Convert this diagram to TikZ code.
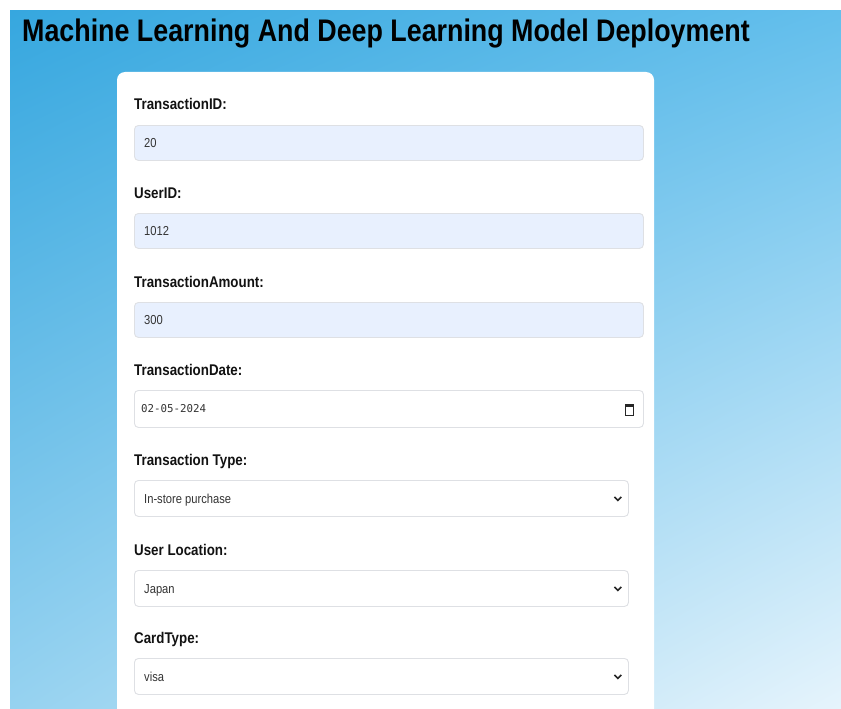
\documentclass[tikz,border=0pt]{standalone}
\usepackage{fontspec}
\usetikzlibrary{positioning,shadings}
\newfontfamily\uifont[FakeStretch=0.86]{Liberation Sans}
\newfontfamily\datefont{DejaVu Sans Mono}
\definecolor{skytl}{RGB}{54,167,223}
\definecolor{skytr}{RGB}{100,191,236}
\definecolor{skybl}{RGB}{150,210,240}
\definecolor{skybr}{RGB}{230,244,252}
\definecolor{autofill}{RGB}{232,240,254}
\definecolor{boxline}{RGB}{222,224,228}
\definecolor{valtext}{RGB}{51,51,51}

\tikzset{
  lbl/.style={anchor=base west, inner sep=0pt, text=black!93,
              font=\uifont\bfseries\fontsize{15.5}{18}\selectfont},
  valtxt/.style={anchor=base west, inner sep=0pt, text=valtext,
                 font=\uifont\fontsize{13}{15}\selectfont},
  inbox/.style={draw=boxline, line width=0.9pt, rounded corners=4pt,
                anchor=north west, inner sep=0pt},
  filledbox/.style={inbox, fill=autofill, minimum width=509, minimum height=35},
  selbox/.style={inbox, fill=white, minimum width=494, minimum height=36},
}

\begin{document}
\begin{tikzpicture}[x=1pt,y=-1pt] %% one unit per pixel, y runs down
            \useasboundingbox (0,0) rectangle (841,709);

            % page background
            \shade[upper left=skytl, upper right=skytr, lower left=skybl, lower right=skybr]
                (10,11) rectangle (841,709);

            \node[anchor=base west, inner sep=0pt, text=black,
                  font=\uifont\bfseries\fontsize{31.2}{36}\selectfont] (title) at (22,42)
                {Machine Learning And Deep Learning Model Deployment};

            % form card
            \fill[white, rounded corners=8pt] (117,72) rectangle (654,730);

            % text inputs
            \node[lbl] (idlbl) at (134,110) {TransactionID:};
            \node[filledbox] (idbox) at (134,125) {};
            \node[valtxt] (idval) at ([xshift=10pt,yshift=-5pt]idbox.west) {20};

            \node[lbl] (userlbl) at (134,198) {UserID:};
            \node[filledbox] (userbox) at (134,213) {};
            \node[valtxt] (userval) at ([xshift=10pt,yshift=-5pt]userbox.west) {1012};

            \node[lbl] (amtlbl) at (134,287) {TransactionAmount:};
            \node[filledbox] (amtbox) at (134,302) {};
            \node[valtxt] (amtval) at ([xshift=10pt,yshift=-5pt]amtbox.west) {300};

            % date input
            \node[lbl] (datelbl) at (134,375) {TransactionDate:};
            \node[inbox, fill=white, minimum width=509, minimum height=37] (datebox) at (134,390) {};
            \node[anchor=base west, inner sep=0pt, text=valtext,
                  font=\datefont\fontsize{10.8}{13}\selectfont] (dateval)
                at ([xshift=7pt,yshift=-4pt]datebox.west) {02-05-2024};
            \draw[line width=1pt, black!85] ([xshift=-18pt,yshift=3pt]datebox.east) rectangle ++(8,9.5);
            \fill[black!85] ([xshift=-18.5pt,yshift=5pt]datebox.east) rectangle ++(9,3);

            % drop-down selects
            \node[lbl] (typelbl) at (134,465) {Transaction Type:};
            \node[selbox] (typebox) at (134,480) {};
            \node[valtxt] (typeval) at ([xshift=10pt,yshift=-5pt]typebox.west) {In-store purchase};

            \node[lbl] (loclbl) at (134,555) {User Location:};
            \node[selbox] (locbox) at (134,570) {};
            \node[valtxt] (locval) at ([xshift=10pt,yshift=-5pt]locbox.west) {Japan};

            \node[lbl] (cardlbl) at (134,643) {CardType:};
            \node[selbox] (cardbox) at (134,658) {};
            \node[valtxt] (cardval) at ([xshift=10pt,yshift=-5pt]cardbox.west) {visa};

            \foreach \sel in {typebox,locbox,cardbox}
                \draw[line width=1.6pt, black!85] ([xshift=-14.5pt,yshift=1.5pt]\sel.east) -- ++(3.5,3.5) -- ++(3.5,-3.5);
\end{tikzpicture}
\end{document}
